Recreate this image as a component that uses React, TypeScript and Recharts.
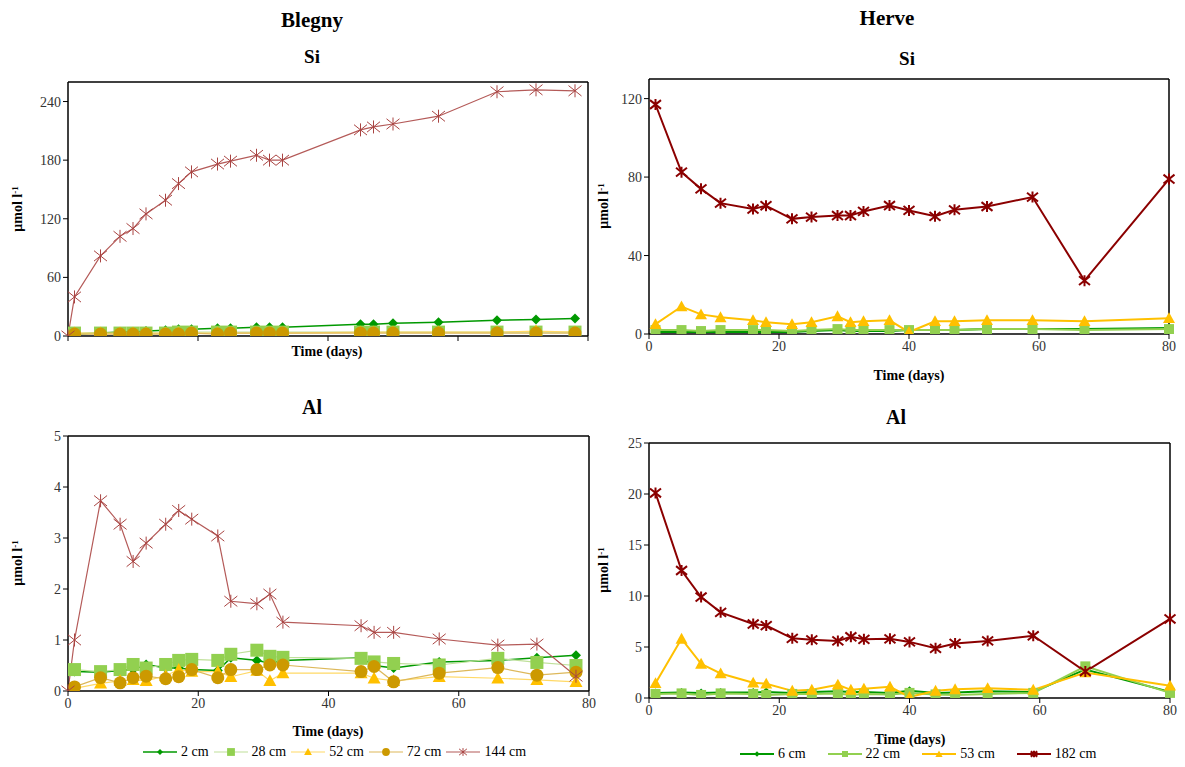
import React from "react";
import { LineChart, Line, XAxis, YAxis, ReferenceLine } from "recharts";

const FONT = "'Liberation Serif', 'Times New Roman', Times, serif";

// Blegny sampling days
const bDays = [0, 1, 5, 8, 10, 12, 15, 17, 19, 23, 25, 29, 31, 33, 45, 47, 50, 57, 66, 72, 78];

const bSi2 = [null, 2, 3, 4, 4, 5, 6, 7, 7, 8, 8, 9, 9, 9, 12, 12, 13, 14, 16, 17, 18];
const bSi28 = [null, 3, 3, 3, 3, 3, 3, 4, 4, 4, 4, 4, 4, 4, 4, 4, 4, 4, 4, 4, 4];
const bSi52 = [null, 3, 3, 3, 3, 3, 3, 3, 3, 3, 3, 3, 3, 3, 4, 4, 4, 4, 4, 5, 4];
const bSi72 = [null, 2, 2, 2, 2, 2, 2, 2, 3, 2, 3, 3, 3, 3, 3, 3, 3, 3, 3, 3, 3];
const bSi144 = [0, 40, 82, 102, 110, 125, 139, 156, 168, 176, 179, 185, 180, 180, 211, 214, 217, 225, 250, 252, 251];

const bAl2 = [null, 0.38, 0.37, 0.4, 0.42, 0.52, 0.45, 0.45, 0.42, 0.4, 0.65, 0.6, 0.55, 0.6, 0.65, 0.5, 0.45, 0.57, 0.6, 0.65, 0.7];
const bAl28 = [null, 0.42, 0.38, 0.42, 0.52, 0.45, 0.52, 0.6, 0.62, 0.6, 0.72, 0.8, 0.68, 0.66, 0.64, 0.57, 0.54, 0.51, 0.64, 0.56, 0.5];
const bAl52 = [null, 0.05, 0.15, 0.2, 0.22, 0.2, 0.3, 0.42, 0.38, 0.38, 0.28, 0.4, 0.2, 0.35, 0.35, 0.25, 0.2, 0.28, 0.25, 0.22, 0.18];
const bAl72 = [null, 0.08, 0.26, 0.16, 0.26, 0.29, 0.24, 0.28, 0.42, 0.26, 0.42, 0.42, 0.51, 0.51, 0.38, 0.48, 0.18, 0.35, 0.46, 0.31, 0.37];
const bAl144 = [0, 1.0, 3.73, 3.27, 2.54, 2.9, 3.27, 3.54, 3.37, 3.04, 1.76, 1.71, 1.9, 1.35, 1.28, 1.15, 1.15, 1.02, 0.9, 0.92, 0.29];

// Herve sampling days
const hDays = [1, 5, 8, 11, 16, 18, 22, 25, 29, 31, 33, 37, 40, 44, 47, 52, 59, 67, 80];

const hSi6 = [1, 1, 1, 1, 1, 1, 1, 1.5, 2, 1.5, 1.5, 1.5, 2, 2, 2, 2.5, 2.5, 2.5, 3];
const hSi22 = [2, 2, 1.5, 2, 2, 2, 1.5, 2, 2.5, 2, 2, 2, 2, 2, 2, 2.5, 2.5, 2, 2.5];
const hSi53 = [5, 14, 10, 8.5, 7, 6, 5, 6, 9, 6, 6.5, 7, 1, 6.5, 6.5, 7, 7, 6.5, 8];
const hSi182 = [117, 82.5, 74, 66.7, 63.7, 65.4, 58.7, 59.6, 60.4, 60.4, 62.5, 65.5, 63, 60, 63.3, 65, 69.8, 27.2, 79];

const hAl6 = [0.5, 0.55, 0.5, 0.55, 0.55, 0.6, 0.5, 0.6, 0.65, 0.6, 0.6, 0.5, 0.7, 0.5, 0.55, 0.65, 0.6, 2.8, 0.6];
const hAl22 = [0.4, 0.45, 0.3, 0.45, 0.4, 0.3, 0.4, 0.4, 0.45, 0.3, 0.4, 0.35, 0.5, 0.35, 0.3, 0.4, 0.5, 3.1, 0.5];
const hAl53 = [1.45, 5.8, 3.35, 2.4, 1.5, 1.4, 0.7, 0.8, 1.3, 0.8, 0.9, 1.1, 0.1, 0.7, 0.85, 0.95, 0.8, 2.5, 1.2];
const hAl182 = [20.1, 12.5, 9.9, 8.4, 7.25, 7.1, 5.85, 5.7, 5.6, 6.0, 5.75, 5.8, 5.5, 4.87, 5.35, 5.6, 6.1, 2.6, 7.75];

const xTicks = [0, 20, 40, 60, 80];

type Shape = "diamond" | "square" | "triangle" | "circle" | "star";

interface Series {
  key: string;
  name: string;
  values: (number | null)[];
  color: string;
  lineColor: string;
  lineWidth: number;
  shape: Shape;
  size: number;
  markerStroke?: number;
}

function Marker({ shape, cx, cy, s, color, sw }: { shape: Shape; cx: number; cy: number; s: number; color: string; sw: number }) {
  if (shape === "diamond")
    return <polygon points={`${cx},${cy - s} ${cx + s},${cy} ${cx},${cy + s} ${cx - s},${cy}`} fill={color} />;
  if (shape === "square") return <rect x={cx - s} y={cy - s} width={2 * s} height={2 * s} fill={color} />;
  if (shape === "triangle")
    return <polygon points={`${cx},${cy - s} ${cx + s},${cy + s * 0.8} ${cx - s},${cy + s * 0.8}`} fill={color} />;
  if (shape === "circle") return <circle cx={cx} cy={cy} r={s} fill={color} />;
  const v = s * 0.8;
  return (
    <path
      d={`M${cx - s},${cy - v}L${cx + s},${cy + v}M${cx + s},${cy - v}L${cx - s},${cy + v}M${cx},${cy - s}L${cx},${cy + s}`}
      stroke={color}
      strokeWidth={sw}
      fill="none"
    />
  );
}

interface PanelProps {
  box: [number, number, number, number];
  days: number[];
  series: Series[];
  yMax: number;
  yTicks: number[];
  showXLabels: boolean;
}

function Panel({ box, days, series, yMax, yTicks, showXLabels }: PanelProps) {
  const [x0, y0, x1, y1] = box;
  const rows = days.map((d, i) => {
    const r: Record<string, number | null> = { day: d };
    series.forEach((s) => (r[s.key] = s.values[i]));
    return r;
  });
  const tickStyle = { fontSize: 14, fontFamily: FONT, fill: "#333" };
  return (
    <div style={{ position: "absolute", left: x0 - 50, top: y0 - 10, fontFamily: FONT }}>
      <LineChart
        width={x1 - x0 + 65}
        height={y1 - y0 + 40}
        data={rows}
        margin={{ top: 10, right: 15, bottom: 0, left: 10 }}
        style={{ fontFamily: FONT }}
      >
        <XAxis
          type="number"
          dataKey="day"
          domain={[0, 80]}
          ticks={xTicks}
          height={30}
          tickSize={5}
          axisLine={{ stroke: "#000", strokeWidth: 1.5 }}
          tickLine={{ stroke: "#000" }}
          tick={showXLabels ? tickStyle : () => <g />}
        />
        <YAxis
          type="number"
          domain={[0, yMax]}
          ticks={yTicks}
          width={40}
          tickSize={5}
          allowDataOverflow
          axisLine={{ stroke: "#000", strokeWidth: 1.5 }}
          tickLine={{ stroke: "#000" }}
          tick={tickStyle}
        />
        <ReferenceLine y={yMax} stroke="#000" strokeWidth={1.5} />
        <ReferenceLine x={80} stroke="#000" strokeWidth={1.5} />
        {series.map((s) => (
          <Line
            key={s.key}
            dataKey={s.key}
            stroke={s.lineColor}
            strokeWidth={s.lineWidth}
            isAnimationActive={false}
            activeDot={false}
            dot={(p: any) =>
              p.cx == null || p.cy == null || p.value == null ? (
                <g key={p.index} />
              ) : (
                <g key={p.index}>
                  <Marker shape={s.shape} cx={p.cx} cy={p.cy} s={s.size} color={s.color} sw={s.markerStroke ?? 1} />
                </g>
              )
            }
          />
        ))}
      </LineChart>
    </div>
  );
}

const C_DKGREEN = "#009900";
const C_LTGREEN = "#92D050";
const C_YELLOW = "#FFC000";
const C_GOLD = "#CC9900";
const C_RED = "#A94442";
const C_DKRED = "#8B0000";

function blegny(v: (number | null)[][]): Series[] {
  return [
    { key: "a", name: "2 cm", values: v[0], color: C_DKGREEN, lineColor: C_DKGREEN, lineWidth: 1.5, shape: "diamond", size: 5 },
    { key: "b", name: "28 cm", values: v[1], color: C_LTGREEN, lineColor: "#BFE09A", lineWidth: 1.2, shape: "square", size: 6.5 },
    { key: "c", name: "52 cm", values: v[2], color: C_YELLOW, lineColor: "#FFD966", lineWidth: 1.2, shape: "triangle", size: 6.5 },
    { key: "d", name: "72 cm", values: v[3], color: C_GOLD, lineColor: "#DDB85A", lineWidth: 1.2, shape: "circle", size: 6.5 },
    { key: "e", name: "144 cm", values: v[4], color: C_RED, lineColor: "#B45A58", lineWidth: 1.2, shape: "star", size: 6.5, markerStroke: 1 },
  ];
}

function herve(v: number[][]): Series[] {
  return [
    { key: "a", name: "6 cm", values: v[0], color: C_DKGREEN, lineColor: C_DKGREEN, lineWidth: 2, shape: "diamond", size: 4.5 },
    { key: "b", name: "22 cm", values: v[1], color: C_LTGREEN, lineColor: C_LTGREEN, lineWidth: 2, shape: "square", size: 5 },
    { key: "c", name: "53 cm", values: v[2], color: C_YELLOW, lineColor: C_YELLOW, lineWidth: 2, shape: "triangle", size: 6 },
    { key: "d", name: "182 cm", values: v[3], color: C_DKRED, lineColor: C_DKRED, lineWidth: 2, shape: "star", size: 5.5, markerStroke: 2 },
  ];
}

const bSiSeries = blegny([bSi2, bSi28, bSi52, bSi72, bSi144]);
const bAlSeries = blegny([bAl2, bAl28, bAl52, bAl72, bAl144]);
const hSiSeries = herve([hSi6, hSi22, hSi53, hSi182]);
const hAlSeries = herve([hAl6, hAl22, hAl53, hAl182]);

function Text({ x, y, size, bold, children, rotate }: { x: number; y: number; size: number; bold?: boolean; children: React.ReactNode; rotate?: boolean }) {
  return (
    <div
      style={{
        position: "absolute",
        left: x,
        top: y,
        transform: `translate(-50%, -50%)${rotate ? " rotate(-90deg)" : ""}`,
        fontFamily: FONT,
        fontSize: size,
        fontWeight: bold ? "bold" : "normal",
        whiteSpace: "nowrap",
        lineHeight: 1,
        color: "#000",
      }}
    >
      {children}
    </div>
  );
}

function Unit({ x, y }: { x: number; y: number }) {
  return (
    <Text x={x} y={y} size={14} bold rotate>
      μmol l<sup style={{ fontSize: 9, verticalAlign: "top", lineHeight: 1 }}>-1</sup>
    </Text>
  );
}

function Legend({ x, y, series, gap }: { x: number; y: number; series: Series[]; gap: number }) {
  return (
    <div style={{ position: "absolute", left: x, top: y - 8, display: "flex", alignItems: "center", fontFamily: FONT, fontSize: 14, height: 16 }}>
      {series.map((s) => (
        <div key={s.key} style={{ display: "flex", alignItems: "center", marginRight: gap }}>
          <svg width={34} height={14}>
            <line x1={0} y1={7} x2={34} y2={7} stroke={s.lineColor} strokeWidth={s.lineWidth} />
            <Marker shape={s.shape} cx={17} cy={7} s={s.size * 0.6} color={s.color} sw={s.markerStroke ?? 1} />
          </svg>
          <span style={{ marginLeft: 4, lineHeight: 1 }}>{s.name}</span>
        </div>
      ))}
    </div>
  );
}

export default function App() {
  return (
    <div style={{ position: "absolute", left: 0, top: 0, width: 1185, height: 767, background: "#fff", fontFamily: FONT }}>
      <Panel box={[68, 82, 588, 336]} days={bDays} series={bSiSeries} yMax={260} yTicks={[0, 60, 120, 180, 240]} showXLabels={false} />
      <Panel box={[68, 436, 589, 691]} days={bDays} series={bAlSeries} yMax={5} yTicks={[0, 1, 2, 3, 4, 5]} showXLabels />
      <Panel box={[649, 79, 1169, 334]} days={hDays} series={hSiSeries} yMax={130} yTicks={[0, 40, 80, 120]} showXLabels />
      <Panel box={[649, 443, 1170, 698]} days={hDays} series={hAlSeries} yMax={25} yTicks={[0, 5, 10, 15, 20, 25]} showXLabels />

      <Text x={312} y={20} size={21} bold>Blegny</Text>
      <Text x={887} y={18} size={21} bold>Herve</Text>
      <Text x={312} y={56} size={19} bold>Si</Text>
      <Text x={907} y={58} size={19} bold>Si</Text>
      <Text x={312} y={407} size={20} bold>Al</Text>
      <Text x={896} y={417} size={20} bold>Al</Text>

      <Text x={327} y={352} size={14} bold>Time (days)</Text>
      <Text x={909} y={376} size={14} bold>Time (days)</Text>
      <Text x={328} y={732} size={14} bold>Time (days)</Text>
      <Text x={910} y={740} size={14} bold>Time (days)</Text>

      <Unit x={18} y={209} />
      <Unit x={18} y={563} />
      <Unit x={604} y={206} />
      <Unit x={604} y={570} />

      <Legend x={143} y={752} series={bSiSeries} gap={5} />
      <Legend x={740} y={754} series={hSiSeries} gap={22} />
    </div>
  );
}
